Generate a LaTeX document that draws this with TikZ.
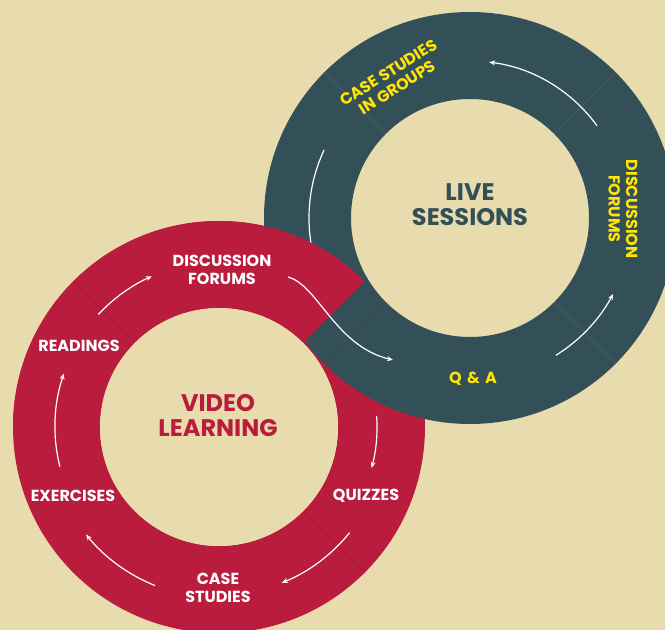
\documentclass[tikz,border=0pt]{standalone}
\usepackage{fontspec}
\setmainfont{Poppins}
\usetikzlibrary{arrows.meta}
\definecolor{bgc}{HTML}{E8DBAD}
\definecolor{redc}{HTML}{BA1C3D}
\definecolor{darkc}{HTML}{334F58}
\definecolor{yel}{HTML}{FFE500}
\definecolor{reddiv}{HTML}{A31A38}
\definecolor{darkdiv}{HTML}{4A6267}
\definecolor{mixdiv}{HTML}{5A3D4B}
\begin{document}
\begin{tikzpicture}[x=1pt,y=1pt,
  lbl/.style={font=\bfseries\fontsize{16}{17.5}\selectfont, align=center, inner sep=0pt},
  wlbl/.style={lbl, text=white},
  ylbl/.style={lbl, text=yel},
  big/.style={font=\bfseries\fontsize{24}{25}\selectfont, align=center, inner sep=0pt},
  flow/.style={white, line width=1.2pt, -{Stealth[length=6pt,width=5pt]}},
  flownohead/.style={white, line width=1.2pt},
  divr/.style={reddiv, line width=0.6pt},
  divd/.style={darkdiv, line width=0.6pt}]
\useasboundingbox (0,0) rectangle (665,630);
\fill[bgc] (0,0) rectangle (665,630);
\coordinate (R) at (219,203);
\coordinate (D) at (470,412);
% red ring
\fill[redc, even odd rule] (R) circle[radius=206] (R) circle[radius=119];
\foreach \a in {135,225,315}
  \draw[divr] ([shift={(R)}]\a:119) -- ([shift={(R)}]\a:206);
% dark ring
\fill[darkc, even odd rule] (D) circle[radius=206] (D) circle[radius=119];
\foreach \a in {45,135,315}
  \draw[divd] ([shift={(D)}]\a:119) -- ([shift={(D)}]\a:206);
\draw[mixdiv, line width=0.6pt] ([shift={(D)}]225:119) -- ([shift={(D)}]225:206);
% dark arrows
\draw[flow] ([shift={(D)}]-58:162) arc[start angle=-58, end angle=-28, radius=162];
\draw[flow] ([shift={(D)}]36:157) arc[start angle=36, end angle=83, radius=157];
\draw[flownohead] ([shift={(D)}]155:161) arc[start angle=155, end angle=200, radius=161];
% red overlay sector
\fill[redc] ([shift={(R)}]45:206) arc[start angle=45, end angle=180, radius=206]
  -- ([shift={(R)}]180:119) arc[start angle=180, end angle=45, radius=119] -- cycle;
\draw[divr] ([shift={(R)}]135:119) -- ([shift={(R)}]135:206);
\fill[bgc] (R) circle[radius=119];
% red arrows
\draw[flow] ([shift={(R)}]137:165) arc[start angle=137, end angle=114, radius=165];
\draw[flow] ([shift={(R)}]194:164) arc[start angle=194, end angle=161, radius=164];
\draw[flow] ([shift={(R)}]248:171) arc[start angle=248, end angle=219, radius=171];
\draw[flow] ([shift={(R)}]-39:168) arc[start angle=-39, end angle=-68, radius=168];
\draw[flow] ([shift={(R)}]4:158) arc[start angle=4, end angle=-15, radius=158];
\coordinate (s0) at (288,353);
\coordinate (s1) at (393,270);
\draw[flow] (s0) .. controls (318,345) and (335,284) .. (s1);
% labels
\node[wlbl] (rdisc) at (222,360) {DISCUSSION\\FORUMS};
\node[wlbl] (read) at (79,284) {READINGS};
\node[wlbl] (exer) at (73,134) {EXERCISES};
\node[wlbl] (quiz) at (366,134) {QUIZZES};
\node[wlbl] (rcase) at (218,42) {CASE\\STUDIES};
\node[big, text=redc] (video) at (218,214) {VIDEO\\LEARNING};
\node[big, text=darkc] (live) at (470,425) {LIVE\\SESSIONS};
\node[ylbl] (qa) at (473,251) {Q\,\,\&\,\,A};
\node[ylbl, rotate=32] (dcase) at (393,550) {CASE STUDIES\\IN GROUPS};
\node[ylbl, rotate=-90] (ddisc) at (623,421) {DISCUSSION\\FORUMS};
\end{tikzpicture}
\end{document}
